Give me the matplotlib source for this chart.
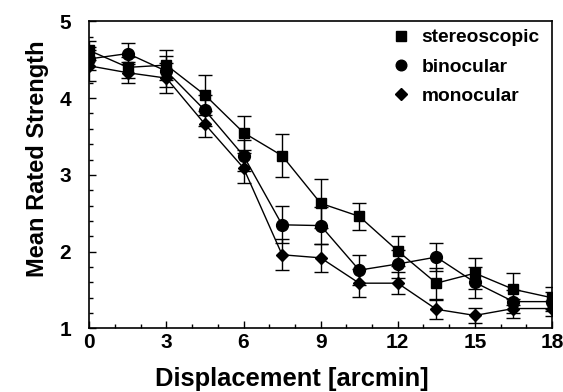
import numpy as np
import matplotlib.pyplot as plt
from matplotlib.ticker import MultipleLocator

plt.rcParams['font.family'] = ['Liberation Sans', 'DejaVu Sans']
plt.rcParams['font.weight'] = 'bold'

# displacement in arcmin
displacement = [0, 1.5, 3, 4.5, 6, 7.5, 9, 10.5, 12, 13.5, 15, 16.5, 18]

stereo = [4.62, 4.40, 4.43, 4.04, 3.55, 3.25, 2.63, 2.46, 2.01, 1.59, 1.72, 1.51, 1.40]
stereo_err = [0.12, 0.14, 0.20, 0.26, 0.22, 0.28, 0.32, 0.18, 0.20, 0.20, 0.20, 0.21, 0.14]

binoc = [4.51, 4.58, 4.35, 3.84, 3.25, 2.35, 2.34, 1.76, 1.84, 1.93, 1.60, 1.35, 1.35]
binoc_err = [0.15, 0.14, 0.20, 0.20, 0.20, 0.24, 0.24, 0.20, 0.18, 0.18, 0.20, 0.15, 0.12]

mono = [4.42, 4.33, 4.26, 3.66, 3.09, 1.96, 1.92, 1.59, 1.59, 1.25, 1.17, 1.26, 1.26]
mono_err = [0.20, 0.14, 0.20, 0.17, 0.20, 0.20, 0.18, 0.18, 0.14, 0.12, 0.10, 0.12, 0.10]

series = [
    ("stereoscopic", stereo, stereo_err, "s", 7.5),
    ("binocular", binoc, binoc_err, "o", 8.5),
    ("monocular", mono, mono_err, "D", 6.5),
]

fig = plt.figure(figsize=(5.63, 3.92), dpi=100)
ax = fig.add_axes([0.1586, 0.162, 0.8219, 0.7837])

for name, vals, errs, mk, ms in series:
    ax.errorbar(displacement, vals, yerr=errs, color="black", marker=mk,
                markersize=ms, linewidth=1.0, elinewidth=1.0, capsize=5,
                capthick=1.0, label=name)

ax.set_xlim(0, 18)
ax.set_ylim(1, 5)
ax.xaxis.set_major_locator(MultipleLocator(3))
ax.xaxis.set_minor_locator(MultipleLocator(1))
ax.yaxis.set_major_locator(MultipleLocator(1))
ax.yaxis.set_minor_locator(MultipleLocator(0.2))
ax.tick_params(which="both", direction="in", top=False, right=False,
               labelsize=15, width=1.0)
ax.tick_params(which="major", length=5)
ax.tick_params(which="minor", length=3)
ax.tick_params(axis="x", which="major", pad=3)
ax.tick_params(axis="y", which="major", pad=13)
for sp in ax.spines.values():
    sp.set_linewidth(1.2)

ax.set_xlabel("Displacement [arcmin]", fontsize=18.4, fontweight="bold")
ax.set_ylabel("Mean Rated Strength", fontsize=17, fontweight="bold")
# labels sit a bit off-centre in the original
ax.xaxis.set_label_coords(0.437, -0.125)
ax.yaxis.set_label_coords(-0.087, 0.552)

handles, labels = ax.get_legend_handles_labels()
handles = [h[0] for h in handles]
leg = ax.legend(handles, labels, loc="upper right", bbox_to_anchor=(0.99, 1.0),
                frameon=False, fontsize=13.8, handlelength=0.6,
                handletextpad=0.8, labelspacing=0.62, borderaxespad=0.0,
                markerscale=0.9)
for lh in leg.legend_handles:
    lh.set_linestyle("none")

fig.savefig("out.png", dpi=100)
